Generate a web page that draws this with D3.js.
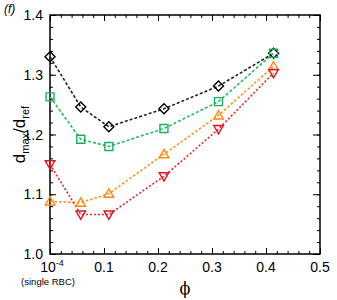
<!DOCTYPE html>
<html>
<head>
<meta charset="utf-8">
<script src="https://cdn.jsdelivr.net/npm/d3@7"></script>
<style>
  body { margin: 0; background: #fff; }
  svg { display: block; font-family: "Liberation Sans", Arial, sans-serif; }
</style>
</head>
<body>
<div id="chart"></div>
<script>
/* d_max / d_ref versus volume fraction phi, four series */
(function () {

  /* ── Data ─────────────────────────────────────────────────────────────── */
  const phi = [0.0001, 0.057, 0.109, 0.211, 0.312, 0.414];
  const seriesBlack  = [1.330, 1.246, 1.213, 1.243, 1.281, 1.336];
  const seriesGreen  = [1.263, 1.192, 1.180, 1.210, 1.255, 1.336];
  const seriesOrange = [1.088, 1.086, 1.101, 1.167, 1.232, 1.314];
  const seriesRed    = [1.150, 1.066, 1.066, 1.130, 1.209, 1.303];
  const xTicks = [0, 0.1, 0.2, 0.3, 0.4, 0.5];
  const yTicks = [1.0, 1.1, 1.2, 1.3, 1.4];

  const series = [
    { values: seriesBlack,  color: '#000000', line: '#222222', marker: 'diamond', dash: '3,2' },
    { values: seriesGreen,  color: '#1fae5e', line: '#1fbd66', marker: 'square',  dash: '3,2' },
    { values: seriesOrange, color: '#ff8a10', line: '#ff9020', marker: 'tri',     dash: '2.5,2' },
    { values: seriesRed,    color: '#e0141c', line: '#e8222a', marker: 'itri',    dash: '2,2' }
  ];

  /* ── Layout ───────────────────────────────────────────────────────────── */
  const TW = 337, TH = 300;
  const M = { top: 15, right: 17, bottom: 46, left: 50 };
  const W = TW - M.left - M.right;
  const H = TH - M.top - M.bottom;

  const x = d3.scaleLinear().domain([0, 0.5]).range([0, W]);
  const y = d3.scaleLinear().domain([1.0, 1.4]).range([H, 0]);

  const svg = d3.select('#chart').append('svg')
    .attr('width', TW).attr('height', TH);

  const root = svg.append('g')
    .attr('transform', `translate(${M.left},${M.top})`);

  /* ── Axes (ticks inward, mirrored on top / right) ─────────────────────── */
  const xMinor = d3.range(0, 0.5001, 0.02);
  const yMinor = d3.range(1.0, 1.4001, 0.02);

  function tickAxis(gen, scale, values, size, transform) {
    root.append('g')
      .attr('transform', transform)
      .call(gen(scale).tickValues(values).tickSize(size).tickFormat(''))
      .call(g => g.select('.domain').remove())
      .call(g => g.selectAll('line').attr('stroke', '#000').attr('stroke-width', 1));
  }

  tickAxis(d3.axisTop,    x, xMinor, 3, `translate(0,${H})`);
  tickAxis(d3.axisTop,    x, xTicks, 6, `translate(0,${H})`);
  tickAxis(d3.axisBottom, x, xMinor, 3, 'translate(0,0)');
  tickAxis(d3.axisBottom, x, xTicks, 6, 'translate(0,0)');
  tickAxis(d3.axisRight,  y, yMinor, 3, 'translate(0,0)');
  tickAxis(d3.axisRight,  y, yTicks, 6, 'translate(0,0)');
  tickAxis(d3.axisLeft,   y, yMinor, 3, `translate(${W},0)`);
  tickAxis(d3.axisLeft,   y, yTicks, 7, `translate(${W},0)`);

  root.append('rect')
    .attr('width', W).attr('height', H)
    .attr('fill', 'none').attr('stroke', '#000').attr('stroke-width', 1.5);

  // Tick labels
  root.selectAll('.ylab').data(yTicks).join('text')
    .attr('x', -7).attr('y', d => y(d) + 5)
    .attr('text-anchor', 'end')
    .attr('font-size', 14)
    .text(d => d.toFixed(1));

  root.selectAll('.xlab').data(xTicks.slice(1)).join('text')
    .attr('x', d => x(d)).attr('y', H + 18)
    .attr('text-anchor', 'middle')
    .attr('font-size', 14)
    .text(d => d.toFixed(1));

  const first = root.append('text')
    .attr('x', x(0) + 2).attr('y', H + 18)
    .attr('text-anchor', 'middle')
    .attr('font-size', 14);
  first.append('tspan').text('10');
  first.append('tspan').attr('dy', -6).attr('font-size', 9).text('-4');

  root.append('text')
    .attr('x', x(0) - 2).attr('y', H + 31)
    .attr('text-anchor', 'middle')
    .attr('font-size', 9.5)
    .text('(single RBC)');

  // Axis titles
  root.append('text')
    .attr('x', W / 2).attr('y', H + 40)
    .attr('text-anchor', 'middle')
    .attr('font-size', 16)
    .attr('font-family', '"DejaVu Serif", serif')
    .text('ϕ');

  const ylab = svg.append('text')
    .attr('transform', `translate(25,${M.top + H / 2}) rotate(-90)`)
    .attr('text-anchor', 'middle')
    .attr('font-size', 17);
  ylab.append('tspan').text('d');
  ylab.append('tspan').attr('font-size', 11).attr('dy', 4).text('max');
  ylab.append('tspan').attr('dy', -4).text('/d');
  ylab.append('tspan').attr('font-size', 11).attr('dy', 4).text('ref');

  svg.append('text')
    .attr('x', 4).attr('y', 13)
    .attr('font-size', 12)
    .attr('font-style', 'italic')
    .text('(f)');

  /* ── Series ───────────────────────────────────────────────────────────── */
  const line = d3.line().x((d, i) => x(phi[i])).y(d => y(d));

  const markerPath = {
    diamond: 'M0,-5L5,0L0,5L-5,0Z',
    square:  'M-4,-4H4V4H-4Z',
    tri:     'M0,-4.8L4.8,3.6L-4.8,3.6Z',
    itri:    'M0,4.8L4.8,-3.6L-4.8,-3.6Z'
  };

  series.forEach(s => {
    root.append('path')
      .datum(s.values)
      .attr('d', line)
      .attr('fill', 'none')
      .attr('stroke', s.line)
      .attr('stroke-width', 1.6)
      .attr('stroke-dasharray', s.dash);
  });

  series.forEach(s => {
    root.append('g').selectAll('path')
      .data(s.values)
      .join('path')
      .attr('transform', (d, i) => `translate(${x(phi[i])},${y(d)})`)
      .attr('d', markerPath[s.marker])
      .attr('fill', 'none')
      .attr('stroke', s.color)
      .attr('stroke-width', 1.4);
  });

})();
</script>
</body>
</html>
